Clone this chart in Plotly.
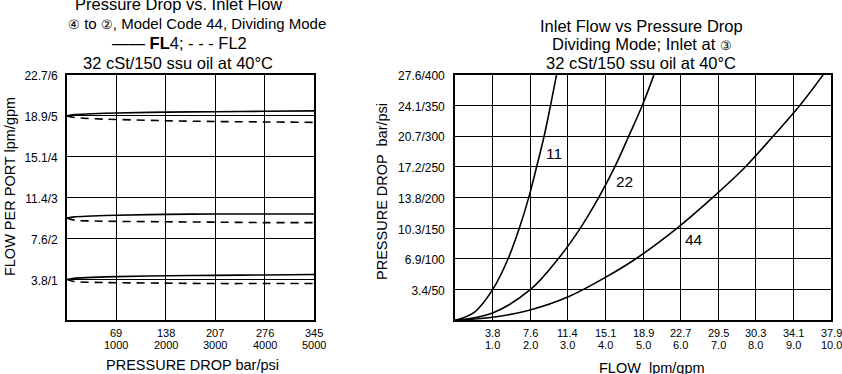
import plotly.graph_objects as go

W, H = 842, 374

# ---------------- Left chart data ----------------
left_dp_bar = [0, 10, 35, 69, 138, 207, 276, 345]
fl4_high = [5.0, 5.03, 5.05, 5.07, 5.09, 5.10, 5.11, 5.12]
fl2_high = [5.0, 4.96, 4.93, 4.91, 4.88, 4.86, 4.85, 4.84]
fl4_mid = [2.5, 2.53, 2.55, 2.57, 2.59, 2.60, 2.60, 2.60]
fl2_mid = [2.5, 2.45, 2.43, 2.42, 2.41, 2.40, 2.39, 2.39]
fl4_low = [1.0, 1.03, 1.05, 1.07, 1.09, 1.10, 1.11, 1.12]
fl2_low = [1.0, 0.95, 0.93, 0.92, 0.91, 0.90, 0.90, 0.90]

left_xtick_vals = [69, 138, 207, 276, 345]
left_xtick_bar = ["69", "138", "207", "276", "345"]
left_xtick_psi = ["1000", "2000", "3000", "4000", "5000"]
left_ytick_vals = [1, 2, 3, 4, 5, 6]
left_ytick_text = ["3.8/1", "7.6/2", "11.4/3", "15.1/4", "18.9/5", "22.7/6"]

# ---------------- Right chart data ----------------
c11_gpm = [0, 0.53, 1.0, 1.41, 1.71, 1.96, 2.17, 2.37, 2.54, 2.70]
c11_psi = [0, 14, 50, 100, 150, 200, 250, 300, 350, 400]
c22_gpm = [0, 1.0, 2.0, 2.74, 3.33, 3.82, 4.25, 4.62, 4.98, 5.29]
c22_psi = [0, 12, 50, 100, 150, 200, 250, 300, 350, 400]
c44_gpm = [0, 1.0, 2.0, 3.0, 4.0, 4.8, 5.9, 6.85, 7.72, 8.46, 9.17, 9.79]
c44_psi = [0, 5, 17, 38, 70, 100, 150, 200, 250, 300, 350, 400]

right_xtick_vals = [1, 2, 3, 4, 5, 6, 7, 8, 9, 10]
right_xtick_lpm = ["3.8", "7.6", "11.4", "15.1", "18.9", "22.7", "29.5", "30.3", "34.1", "37.9"]
right_xtick_gpm = ["1.0", "2.0", "3.0", "4.0", "5.0", "6.0", "7.0", "8.0", "9.0", "10.0"]
right_ytick_vals = [50, 100, 150, 200, 250, 300, 350, 400]
right_ytick_text = ["3.4/50", "6.9/100", "10.3/150", "13.8/200", "17.2/250",
                    "20.7/300", "24.1/350", "27.6/400"]

curve_labels = ["11", "22", "44"]
curve_label_gpm = [2.63, 4.52, 6.36]
curve_label_psi = [272, 226, 131]

FONT = "Liberation Sans, Arial, sans-serif"


def px(xp):
    return xp / W


def py(yp):
    return 1 - yp / H


fig = go.Figure()

line_solid = dict(color="black", width=1.6)
line_dash = dict(color="black", width=1.6, dash="8px,6px")

for ys, style in [(fl4_high, line_solid), (fl2_high, line_dash),
                  (fl4_mid, line_solid), (fl2_mid, line_dash),
                  (fl4_low, line_solid), (fl2_low, line_dash)]:
    fig.add_trace(go.Scatter(x=left_dp_bar, y=ys, mode="lines", line=dict(shape="spline", **style),
                             xaxis="x", yaxis="y", showlegend=False, hoverinfo="skip"))

for gx, gy in [(c11_gpm, c11_psi), (c22_gpm, c22_psi), (c44_gpm, c44_psi)]:
    fig.add_trace(go.Scatter(x=gx, y=gy, mode="lines",
                             line=dict(color="black", width=1.6, shape="spline", smoothing=1.0),
                             xaxis="x2", yaxis="y2", showlegend=False, hoverinfo="skip"))

axis_common = dict(showgrid=True, gridcolor="black", gridwidth=1.3, showline=True, mirror=True,
                   linecolor="black", linewidth=1.6, zeroline=False, ticks="", fixedrange=True)

L0, L1, T0, T1 = 67, 314, 70, 319.5
R0, R1 = 455, 831

fig.update_layout(
    width=W, height=H,
    margin=dict(l=0, r=0, t=0, b=0),
    paper_bgcolor="white", plot_bgcolor="white",
    font=dict(family=FONT, color="black", size=12),
    xaxis=dict(domain=[px(L0), px(L1)], range=[0, 345], tickvals=left_xtick_vals,
               showticklabels=False, anchor="y", **axis_common),
    yaxis=dict(domain=[py(T1), py(T0)], range=[0, 6], tickvals=left_ytick_vals,
               ticktext=left_ytick_text, tickfont=dict(size=12), ticklabelstandoff=5,
               ticklabelshift=1, anchor="x", **axis_common),
    xaxis2=dict(domain=[px(R0), px(R1)], range=[0, 10], tickvals=right_xtick_vals,
                showticklabels=False, anchor="y2", **axis_common),
    yaxis2=dict(domain=[py(T1), py(T0)], range=[0, 400], tickvals=right_ytick_vals,
                ticktext=right_ytick_text, tickfont=dict(size=12), ticklabelstandoff=6,
                ticklabelshift=1, anchor="x2", **axis_common),
)

ann = []


def text(t, x, y, size=16.5, angle=0):
    ann.append(dict(text=t, x=px(x), y=py(y), xref="paper", yref="paper", showarrow=False,
                    font=dict(size=size, family=FONT), textangle=angle,
                    xanchor="center", yanchor="middle"))


def circ(c):
    return '<span style="font-size:13px">' + c + '</span>'


# Left titles
text("Pressure Drop vs. Inlet Flow", 178.5, -2)
text(circ("④") + " to " + circ("②") + ", Model Code 44, Dividing Mode", 197, 18, size=15)
text("—— <b>FL</b>4; - - - FL2", 179.5, 38)
text("32 cSt/150 ssu oil at 40°C", 177.5, 57.5)
# Right titles
text("Inlet Flow vs Pressure Drop", 641, 20)
text("Dividing Mode; Inlet at " + circ("③"), 641.5, 39)
text("32 cSt/150 ssu oil at 40°C", 641, 57.5)
# Axis titles
text("PRESSURE DROP bar/psi", 192, 365, size=14.5)
text("FLOW  lpm/gpm", 652, 368, size=14.5)
text("FLOW PER PORT lpm/gpm", 10, 184, size=14.5, angle=-90)
text("PRESSURE DROP  bar/psi", 382, 189, size=14.5, angle=-90)

# x tick labels (two lines) placed on the axes' own scale
for v, a, b in zip(left_xtick_vals, left_xtick_bar, left_xtick_psi):
    for t, yp in [(a, 332.5), (b, 345)]:
        ann.append(dict(text=t, x=v, xref="x", y=py(yp), yref="paper", showarrow=False,
                        font=dict(size=11, family=FONT), xanchor="center", yanchor="middle"))
for v, a, b in zip(right_xtick_vals, right_xtick_lpm, right_xtick_gpm):
    for t, yp in [(a, 332.5), (b, 345)]:
        ann.append(dict(text=t, x=v, xref="x2", y=py(yp), yref="paper", showarrow=False,
                        font=dict(size=11, family=FONT), xanchor="center", yanchor="middle"))

# curve labels
for t, gx, gy in zip(curve_labels, curve_label_gpm, curve_label_psi):
    ann.append(dict(text=t, x=gx, y=gy, xref="x2", yref="y2", showarrow=False,
                    font=dict(size=15.5, family=FONT), xanchor="center", yanchor="middle"))

fig.update_layout(annotations=ann)

fig.write_html("out.html", config={"displayModeBar": False},
               post_script="document.body.style.margin='0px';")
